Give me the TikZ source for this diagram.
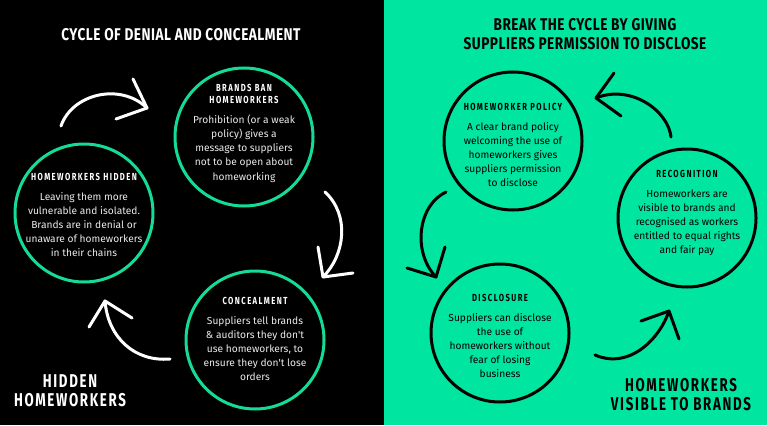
\documentclass[tikz,border=0pt]{standalone}
\usepackage{fontspec}
\setmainfont{Fira Sans}
\newfontfamily\titlefont[FakeStretch=0.8,LetterSpace=3]{Fira Sans}
\newfontfamily\bigfont[FakeStretch=0.72,LetterSpace=9]{Fira Sans}
\newfontfamily\headfont[FakeStretch=0.75,LetterSpace=14]{Fira Sans}
\newfontfamily\bodyfont{Fira Sans}
\definecolor{greenbg}{RGB}{0,229,160}
\definecolor{greenring}{RGB}{20,220,150}
\definecolor{lighttext}{RGB}{235,235,235}
\tikzset{
  ring/.style={circle, draw, line width=3pt, minimum size=138pt, inner sep=0pt},
  headtxt/.style={anchor=north, align=center, inner sep=0pt, font=\headfont\bfseries\fontsize{10.2}{12}\selectfont},
  bodytxt/.style={anchor=north, align=center, inner sep=0pt, font=\bodyfont\fontsize{10.2}{14.2}\selectfont},
  titletxt/.style={anchor=north, align=center, inner sep=0pt, font=\titlefont\bfseries\fontsize{17}{19}\selectfont},
  bigtxt/.style={anchor=north, align=center, inner sep=0pt, font=\bigfont\bfseries\fontsize{18.5}{19}\selectfont},
  hand/.style={line width=3pt, line cap=round, line join=round},
}
\begin{document}
\begin{tikzpicture}[x=1pt,y=-1pt]
\useasboundingbox (0,0) rectangle (767,425);
\fill[black] (0,0) rectangle (383.5,425);
\fill[greenbg] (383.5,0) rectangle (767,425);

% ---------- left panel ----------
\node[titletxt, text=white] (ltitle) at (181,27) {\strut CYCLE OF DENIAL AND CONCEALMENT};

\node[ring, draw=greenring] (ban) at (244,137) {};
\node[ring, draw=greenring] (hid) at (84,213) {};
\node[ring, draw=greenring] (con) at (255,340) {};

\node[headtxt, text=white] (banh) at (244,83) {\strut BRANDS BAN\\HOMEWORKERS};
\node[bodytxt, text=lighttext] (banb) at (244,113.2) {\strut Prohibition (or a weak\\policy) gives a\\message to suppliers\\not to be open about\\homeworking};

\node[headtxt, text=white] (hidh) at (84,172) {\strut HOMEWORKERS HIDDEN};
\node[bodytxt, text=lighttext] (hidb) at (84,190) {\strut Leaving them more\\vulnerable and isolated.\\Brands are in denial or\\unaware of homeworkers\\in their chains};

\node[headtxt, text=white] (conh) at (255,296) {\strut CONCEALMENT};
\node[bodytxt, text=lighttext] (conb) at (255,314) {\strut Suppliers tell brands\\\& auditors they don't\\use homeworkers, to\\ensure they don't lose\\orders};

\node[bigtxt, text=white] (lbottom) at (70,374) {\strut HIDDEN\\HOMEWORKERS};

% left arrows
\coordinate (a1s) at (61,126);
\coordinate (a1t) at (147,108);
\draw[hand, white] (a1s) .. controls (72,94) and (120,82) .. (a1t);
\draw[hand, white] (133,79) -- (a1t) -- (116,119);

\coordinate (a2s) at (325,192);
\coordinate (a2t) at (323,277);
\draw[hand, white] (a2s) .. controls (350,215) and (345,255) .. (a2t);
\draw[hand, white] (318,247) -- (a2t) -- (353,273);

\coordinate (a3s) at (170,359);
\coordinate (a3t) at (105,301);
\draw[hand, white] (a3s) .. controls (135,362) and (108,338) .. (a3t);
\draw[hand, white] (89,327) -- (a3t) -- (132,318);

% ---------- right panel ----------
\node[titletxt, text=black] (rtitle) at (585,17) {\strut BREAK THE CYCLE BY GIVING\\SUPPLIERS PERMISSION TO DISCLOSE};

\node[ring, draw=black] (pol) at (513,141) {};
\node[ring, draw=black] (rec) at (687,218) {};
\node[ring, draw=black] (dis) at (500,333) {};

\node[headtxt, text=black] (polh) at (513,102) {\strut HOMEWORKER POLICY};
\node[bodytxt, text=black] (polb) at (513,120) {\strut A clear brand policy\\welcoming the use of\\homeworkers gives\\suppliers permission\\to disclose};

\node[headtxt, text=black] (rech) at (687,169) {\strut RECOGNITION};
\node[bodytxt, text=black] (recb) at (687,187) {\strut Homeworkers are\\visible to brands and\\recognised as workers\\entitled to equal rights\\and fair pay};

\node[headtxt, text=black] (dish) at (500,293) {\strut DISCLOSURE};
\node[bodytxt, text=black] (disb) at (500,311) {\strut Suppliers can disclose\\the use of\\homeworkers without\\fear of losing\\business};

\node[bigtxt, text=black] (rbottom) at (681,378) {\strut HOMEWORKERS\\VISIBLE TO BRANDS};

% right arrows
\coordinate (b1s) at (671,137);
\coordinate (b1t) at (596,98);
\draw[hand, black] (b1s) .. controls (668,110) and (630,84) .. (b1t);
\draw[hand, black] (614,73) -- (b1t) -- (621,116);

\coordinate (b2s) at (446,192);
\coordinate (b2t) at (436,277);
\draw[hand, black] (b2s) .. controls (418,205) and (412,252) .. (b2t);
\draw[hand, black] (445,247) -- (b2t) -- (407,268);

\coordinate (b3s) at (595,355);
\coordinate (b3t) at (669,311);
\draw[hand, black] (b3s) .. controls (630,370) and (660,338) .. (b3t);
\draw[hand, black] (641,321) -- (b3t) -- (679,339);
\end{tikzpicture}
\end{document}
